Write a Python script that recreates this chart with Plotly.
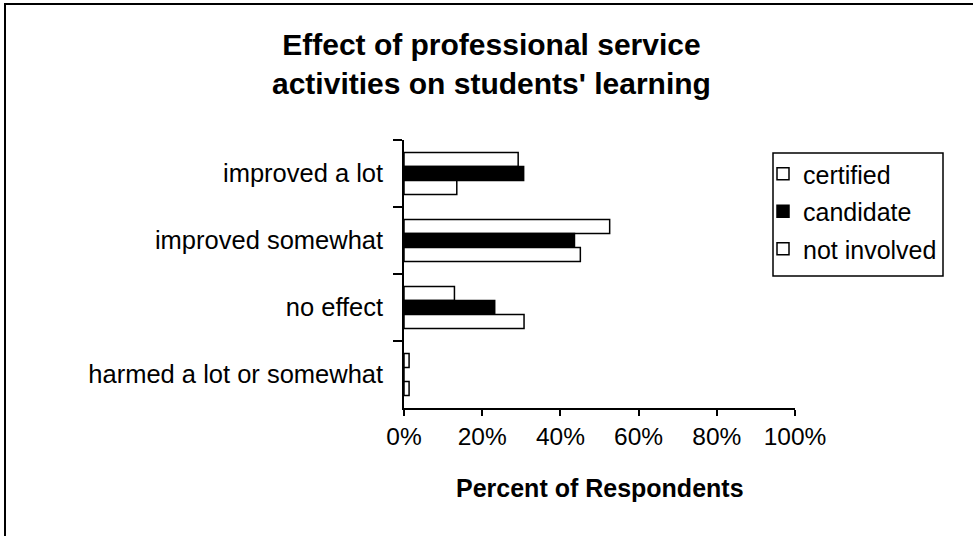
import plotly.graph_objects as go

# Survey responses, percent of respondents per group
categories = ["improved a lot", "improved somewhat", "no effect", "harmed a lot or somewhat"]
certified = [29.2, 52.6, 12.9, 1.3]
candidate = [30.6, 43.6, 23.2, 0.0]
not_involved = [13.5, 45.1, 30.7, 1.3]
x_ticks = [0, 20, 40, 60, 80, 100]
x_tick_labels = ["0%", "20%", "40%", "60%", "80%", "100%"]

FONT = "Liberation Sans, Arial, sans-serif"
W, H = 973, 536
L, R, T, B = 404, 795, 140, 408  # plot area in pixels


def px_x(px):
    return (px - L) / (R - L)


def px_y(py):
    return (B - py) / (B - T)


series = [
    ("certified", certified, "white"),
    ("candidate", candidate, "black"),
    ("not involved", not_involved, "white"),
]

fig = go.Figure()
for i, (name, vals, fill) in enumerate(series):
    fig.add_trace(go.Bar(
        y=categories, x=vals, name=name, orientation="h",
        marker=dict(color=fill, line=dict(color="black", width=1.5)),
        legendgroup=f"g{i}",
    ))

fig.update_layout(
    width=W, height=H,
    margin=dict(l=L, r=W - R, t=T, b=H - B, pad=0),
    paper_bgcolor="white", plot_bgcolor="white",
    font=dict(family=FONT, size=25, color="black"),
    barmode="group", bargap=0.37, bargroupgap=0,
    xaxis=dict(
        range=[0, 100], tickvals=x_ticks, ticktext=x_tick_labels,
        ticks="outside", ticklen=6, tickcolor="black", tickwidth=1.5,
        showline=True, linecolor="black", linewidth=1.5,
        showgrid=False, zeroline=False, fixedrange=True,
        tickfont=dict(family=FONT, size=24.5),
    ),
    yaxis=dict(
        autorange="reversed", type="category",
        ticks="outside", tickson="boundaries", ticklen=9, tickcolor="black", tickwidth=1.5,
        showline=True, linecolor="black", linewidth=1.5,
        showgrid=False, zeroline=False, ticklabelstandoff=14,
        tickfont=dict(family=FONT, size=25.5),
    ),
    legend=dict(
        x=px_x(763), y=px_y(151), xanchor="left", yanchor="top",
        bgcolor="rgba(0,0,0,0)", borderwidth=0,
        font=dict(family=FONT, size=25), traceorder="grouped", tracegroupgap=2,
    ),
    showlegend=True,
)

# Chart title
fig.add_annotation(
    text="<b>Effect of professional service<br>activities on students' learning</b>",
    xref="paper", yref="paper", x=px_x(491), y=px_y(26),
    xanchor="center", yanchor="top", showarrow=False,
    font=dict(family=FONT, size=30, color="black"),
)

# X axis title
fig.add_annotation(
    text="<b>Percent of Respondents</b>",
    xref="paper", yref="paper", x=0.5, y=px_y(488),
    xanchor="center", yanchor="middle", showarrow=False,
    font=dict(family=FONT, size=25, color="black"),
)

# Legend frame
fig.add_shape(type="rect", xref="paper", yref="paper",
              x0=px_x(773), x1=px_x(943), y0=px_y(153), y1=px_y(276),
              line=dict(color="black", width=1.5), fillcolor="white", layer="above")

# Outer chart frame (top and left edges)
fig.add_shape(type="line", xref="paper", yref="paper",
              x0=px_x(4), x1=px_x(973), y0=px_y(4), y1=px_y(4),
              line=dict(color="black", width=2))
fig.add_shape(type="line", xref="paper", yref="paper",
              x0=px_x(5), x1=px_x(5), y0=px_y(4), y1=px_y(536),
              line=dict(color="black", width=2))

fig.write_html("out.html")
